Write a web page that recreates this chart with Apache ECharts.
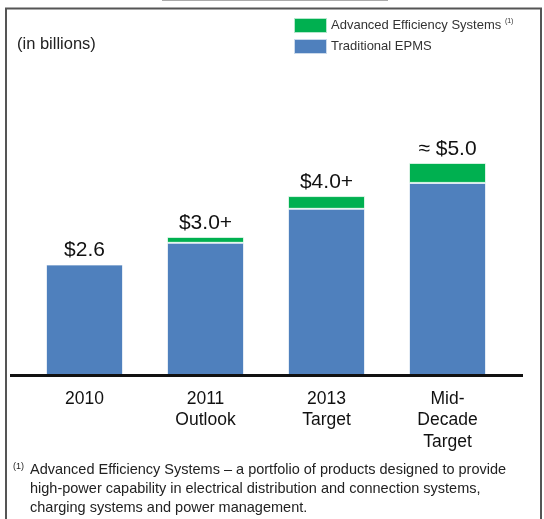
<!DOCTYPE html>
<html>
<head>
<meta charset="utf-8">
<script src="https://cdn.jsdelivr.net/npm/echarts@6/dist/echarts.min.js"></script>
<style>
html,body{margin:0;padding:0;background:#fff;}
#chart{width:544px;height:519px;}
</style>
</head>
<body>
<div id="chart"></div>
<script>
// ---- data ----
var categories = ['2010', '2011\nOutlook', '2013\nTarget', 'Mid-\nDecade\nTarget'];
var traditionalEPMS = [2.6, 3.11, 3.91, 4.52];
var advancedEfficiency = [0, 0.14, 0.30, 0.47];
var totalLabels = ['$2.6', '$3.0+', '$4.0+', '\u2248 $5.0'];
var seriesNames = ['Advanced Efficiency Systems', 'Traditional EPMS'];
var unitNote = '(in billions)';
var footnoteLines = [
  'Advanced Efficiency Systems \u2013 a portfolio of products designed to provide',
  'high-power capability in electrical distribution and connection systems,',
  'charging systems and power management.'
];

var FONT = '"Liberation Sans", Arial, sans-serif';
var BLUE = '#4f80bd';
var GREEN = '#00b050';

var chart = echarts.init(document.getElementById('chart'), null, {renderer: 'canvas'});

var option = {
  animation: false,
  backgroundColor: '#ffffff',
  grid: {left: 24, right: 36, top: 120, bottom: 144, containLabel: false},
  legend: {
    data: [seriesNames[0], seriesNames[1]],
    orient: 'vertical',
    left: 293,
    top: 17,
    padding: 0,
    itemWidth: 33,
    itemHeight: 15,
    itemGap: 4,
    icon: 'rect',
    textStyle: {
      fontFamily: FONT, fontSize: 13, color: '#333', padding: [0, 0, 0, -1],
      rich: {
        t: {fontFamily: FONT, fontSize: 13, color: '#333'},
        s: {fontFamily: FONT, fontSize: 7, color: '#333', padding: [0, 0, 8, 0]}
      }
    },
    formatter: function (name) {
      if (name === seriesNames[0]) return '{t|' + name + '} {s|(1)}';
      return '{t|' + name + '}';
    }
  },
  xAxis: {
    type: 'category',
    data: categories,
    axisLine: {show: false},
    axisTick: {show: false},
    axisLabel: {
      fontFamily: FONT, fontSize: 17.5, color: '#111',
      lineHeight: 21.5, margin: 13, interval: 0
    }
  },
  yAxis: {
    type: 'value', min: 0, max: 6,
    show: false,
    splitLine: {show: false}
  },
  series: [
    {
      name: seriesNames[1],
      type: 'bar',
      stack: 'total',
      barWidth: 77,
      data: traditionalEPMS,
      itemStyle: {color: BLUE, borderColor: 'rgba(255,255,255,0.7)', borderWidth: 1}
    },
    {
      name: seriesNames[0],
      type: 'bar',
      stack: 'total',
      barWidth: 77,
      data: advancedEfficiency,
      itemStyle: {color: GREEN, borderColor: 'rgba(255,255,255,0.7)', borderWidth: 1},
      label: {
        show: true,
        position: 'top',
        distance: 3,
        fontFamily: FONT,
        fontSize: 21,
        color: '#111',
        formatter: function (p) { return totalLabels[p.dataIndex]; }
      }
    }
  ]
};

chart.setOption(option);

var baseY = chart.convertToPixel({yAxisIndex: 0}, 0);

var graphics = [
  // outer frame
  {type: 'rect', shape: {x: 6, y: 8.5, width: 535, height: 530}, style: {fill: 'none', stroke: '#555', lineWidth: 2}, z: 0},
  // small tab line at top
  {type: 'line', shape: {x1: 162, y1: 0.5, x2: 388, y2: 0.5}, style: {stroke: '#aaa', lineWidth: 1}},
  // baseline
  {type: 'line', shape: {x1: 10, y1: baseY + 0.5, x2: 523, y2: baseY + 0.5}, style: {stroke: '#111', lineWidth: 3}, z: 10},
  // unit note
  {type: 'text', left: 17, top: 36, style: {text: unitNote, font: '16.5px ' + FONT, fill: '#222'}},
  // footnote marker
  {type: 'text', left: 13, top: 462, style: {text: '(1)', font: '9px ' + FONT, fill: '#222'}}
];
footnoteLines.forEach(function (line, i) {
  graphics.push({type: 'text', left: 30, top: 462 + i * 19, style: {text: line, font: '14.5px ' + FONT, fill: '#222'}});
});

chart.setOption({graphic: graphics});
</script>
</body>
</html>
